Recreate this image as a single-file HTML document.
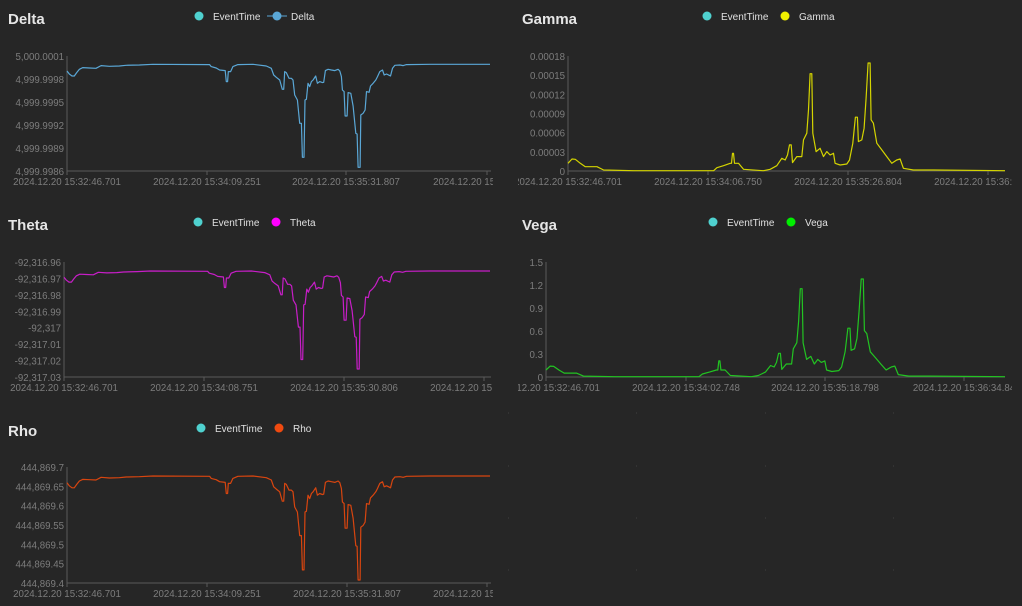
<!DOCTYPE html>
<html><head><meta charset="utf-8"><style>
html,body{margin:0;padding:0;background:#262626;}
svg{display:block}
text{font-family:"Liberation Sans",sans-serif;}
</style></head><body>
<svg id="s" width="1022" height="606" xmlns="http://www.w3.org/2000/svg">
<rect width="1022" height="606" fill="#262626"/>
</svg>
<script>
const S=document.getElementById('s');
let h='<defs><clipPath id="cl"><rect x="0" y="0" width="493" height="606"/></clipPath><clipPath id="cr"><rect x="518" y="0" width="494" height="606"/></clipPath></defs>';
function T(x,y,t,o){o=o||{};h+=`<text x="${x}" y="${y}" font-size="${o.s||9.7}" fill="${o.c||'#7d7d7d'}" text-anchor="${o.a||'start'}" font-weight="${o.w||'normal'}">${t}</text>`;}
function L(x1,y1,x2,y2,c){h+=`<line x1="${x1}" y1="${y1}" x2="${x2}" y2="${y2}" stroke="${c||'#5a5a5a'}" stroke-width="1"/>`;}
function C(x,y,c){h+=`<circle cx="${x}" cy="${y}" r="4.5" fill="${c}"/>`;}
function P(pts,c){h+=`<polyline fill="none" stroke="${c}" stroke-width="1.2" stroke-linejoin="round" points="${pts.map(p=>p[0].toFixed(1)+','+p[1].toFixed(1)).join(' ')}"/>`;}
const D=[[203,213],[210,222],[218,228],[225,228],[232,218],[240,208],[250,203],[270,204],[290,205],[305,197],[330,199],[360,198],[380,196],[420,195],[460,193],[630,194],[635,200],[650,204],[660,210],[677,212],[680,245],[684,245],[686,215],[693,215],[700,200],[715,194],[760,193],[800,198],[815,205],[822,225],[830,232],[840,240],[848,268],[852,268],[855,215],[860,218],[868,235],[875,235],[880,240],[885,285],[893,300],[900,370],[905,370],[908,472],[913,472],[916,300],[920,298],[925,250],[930,260],[935,245],[940,240],[948,228],[953,250],[960,245],[968,248],[972,247],[977,212],[985,208],[995,210],[1005,212],[1015,208],[1020,213],[1025,230],[1028,270],[1033,275],[1036,348],[1042,348],[1045,278],[1053,280],[1060,318],[1068,400],[1072,402],[1075,502],[1081,502],[1083,345],[1090,340],[1096,330],[1100,275],[1108,277],[1112,258],[1120,250],[1128,240],[1133,230],[1140,215],[1148,210],[1153,225],[1160,222],[1168,226],[1172,228],[1178,205],[1185,196],[1200,195],[1210,197],[1220,194],[1290,193],[1470,193]];
const G=[[203,490],[215,477],[225,478],[240,490],[255,500],[290,500],[310,510],[400,512],[640,512],[650,503],[670,497],[690,490],[694,490],[697,460],[700,460],[703,490],[715,490],[730,508],[790,512],[810,508],[830,497],[845,475],[855,480],[862,465],[868,435],[873,435],[877,488],[890,470],[905,470],[910,420],[920,400],[925,330],[930,222],[935,222],[938,400],[948,455],[960,445],[970,470],[980,455],[990,465],[1000,460],[1005,490],[1020,495],[1040,492],[1048,480],[1058,430],[1066,352],[1072,352],[1075,425],[1085,420],[1092,385],[1098,295],[1104,190],[1110,190],[1113,360],[1120,370],[1130,430],[1145,450],[1160,470],[1175,490],[1190,480],[1200,477],[1210,505],[1240,510],[1300,510],[1515,512]];
function dip(x0,w,base,depth,c){P(D.map(p=>[x0+(p[0]-203)/1267*w,base+(p[1]-193)/309*depth]),c);}
function spk(x0,w,base,ht,c){P(G.map(p=>[x0+(p[0]-203)/1312*w,base-(513-p[1])/323*ht]),c);}
function panel(o){
  T(o.tx,o.ty,o.title,{s:15,c:'#e6e6e6',w:'bold'});
  C(o.lx,o.ly-4,'#4fd1cf');T(o.lx+14,o.ly,'EventTime',{s:10,c:'#e0e0e0'});
  if(o.lineLeg){L(o.lx2-10,o.ly-4,o.lx2+10,o.ly-4,o.col);}
  C(o.lx2,o.ly-4,o.col);T(o.lx2+14,o.ly,o.title,{s:10,c:'#e0e0e0'});
  L(o.ax,o.top,o.ax,o.bot);L(o.ax,o.bot,o.ax2,o.bot);
  o.yl.forEach((t,i)=>{const y=o.top+(o.bot-o.top)*i/(o.yl.length-1);T(o.ax-3,y+4,t,{a:'end'});});
  h+=`<g clip-path="url(#${o.clip})">`;
  o.xl.forEach((t,i)=>{const x=o.xt[i];L(x,o.bot,x,o.bot+4);T(x,o.bot+14,t,{a:'middle'});});
  h+='</g>';
}
panel({clip:'cl',tx:8,ty:24,title:'Delta',lx:199,ly:20,lx2:277,col:'#5aa7d6',lineLeg:true,ax:67,ax2:491,top:56,bot:171,
 yl:['5,000.0001','4,999.9998','4,999.9995','4,999.9992','4,999.9989','4,999.9986'],
 xt:[67,207,346,487],xl:['2024.12.20 15:32:46.701','2024.12.20 15:34:09.251','2024.12.20 15:35:31.807','2024.12.20 15:36:54.363']});
dip(67,423,64.3,103,'#5aa7d6');
panel({clip:'cr',tx:522,ty:24,title:'Gamma',lx:707,ly:20,lx2:785,col:'#f0f000',ax:568,ax2:1005,top:56,bot:171,
 yl:['0.00018','0.00015','0.00012','0.00009','0.00006','0.00003','0'],
 xt:[568,708,848,988],xl:['2024.12.20 15:32:46.701','2024.12.20 15:34:06.750','2024.12.20 15:35:26.804','2024.12.20 15:36:46.858']});
spk(568,437,171,108,'#d4d400');
panel({clip:'cl',tx:8,ty:230,title:'Theta',lx:198,ly:226,lx2:276,col:'#ff00ff',ax:64,ax2:491,top:262,bot:377,
 yl:['-92,316.96','-92,316.97','-92,316.98','-92,316.99','-92,317','-92,317.01','-92,317.02','-92,317.03'],
 xt:[64,204,344,484],xl:['2024.12.20 15:32:46.701','2024.12.20 15:34:08.751','2024.12.20 15:35:30.806','2024.12.20 15:36:52.861']});
dip(64,426,271,98,'#c81ec8');
panel({clip:'cr',tx:522,ty:230,title:'Vega',lx:713,ly:226,lx2:791,col:'#00ee00',ax:546,ax2:1005,top:262,bot:377,
 yl:['1.5','1.2','0.9','0.6','0.3','0'],
 xt:[546,686,825,964],xl:['2024.12.20 15:32:46.701','2024.12.20 15:34:02.748','2024.12.20 15:35:18.798','2024.12.20 15:36:34.84']});
spk(546,459,377,98,'#22c422');
panel({clip:'cl',tx:8,ty:436,title:'Rho',lx:201,ly:432,lx2:279,col:'#f04a10',ax:67,ax2:491,top:467,bot:583,
 yl:['444,869.7','444,869.65','444,869.6','444,869.55','444,869.5','444,869.45','444,869.4'],
 xt:[67,207,347,487],xl:['2024.12.20 15:32:46.701','2024.12.20 15:34:09.251','2024.12.20 15:35:31.807','2024.12.20 15:36:54.363']});
dip(67,423,476,104,'#d8450f');
[508,636,765,893].forEach(x=>[412,465,517,569].forEach(y=>{h+=`<rect x="${x}" y="${y}" width="1" height="2" fill="#333"/>`;}));
S.innerHTML+=h;
</script>
</body></html>
